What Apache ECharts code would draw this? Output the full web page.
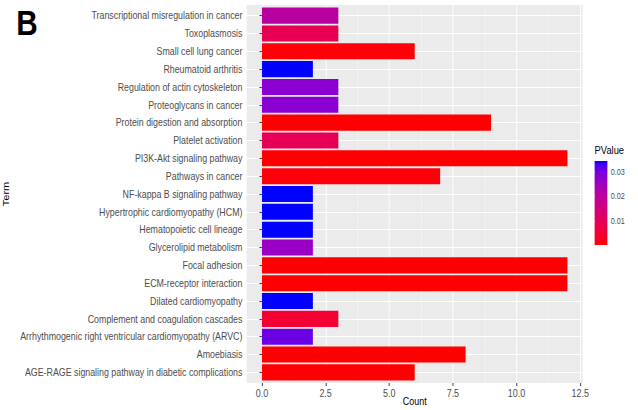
<!DOCTYPE html>
<html>
<head>
<meta charset="utf-8">
<script src="https://cdn.jsdelivr.net/npm/echarts@6/dist/echarts.min.js"></script>
<style>
  html, body { margin: 0; padding: 0; background: #fff; overflow: hidden; width: 638px; height: 410px; }
  /* the figure is laid out 750px wide and drawn horizontally condensed into 638px */
  #chart { width: 750px; height: 410px; transform: scaleX(0.85067); transform-origin: 0 0; }
</style>
</head>
<body>
<div id="chart"></div>
<script>
// KEGG terms, listed from the bottom of the axis to the top
const terms = [
  'AGE-RAGE signaling pathway in diabetic complications',
  'Amoebiasis',
  'Arrhythmogenic right ventricular cardiomyopathy (ARVC)',
  'Complement and coagulation cascades',
  'Dilated cardiomyopathy',
  'ECM-receptor interaction',
  'Focal adhesion',
  'Glycerolipid metabolism',
  'Hematopoietic cell lineage',
  'Hypertrophic cardiomyopathy (HCM)',
  'NF-kappa B signaling pathway',
  'Pathways in cancer',
  'PI3K-Akt signaling pathway',
  'Platelet activation',
  'Protein digestion and absorption',
  'Proteoglycans in cancer',
  'Regulation of actin cytoskeleton',
  'Rheumatoid arthritis',
  'Small cell lung cancer',
  'Toxoplasmosis',
  'Transcriptional misregulation in cancer'
];
const counts = [6, 8, 2, 3, 2, 12, 12, 2, 2, 2, 2, 7, 12, 3, 9, 3, 3, 2, 6, 3, 3];
const pvalues = [0.0002, 0.0001, 0.031, 0.0045, 0.0347, 0.00001, 0.00002, 0.026, 0.0347, 0.0347,
                 0.0347, 0.0006, 0.00003, 0.0095, 0.00005, 0.028, 0.028, 0.0347, 0.0003, 0.009, 0.021];
const countTicks = [0, 2.5, 5, 7.5, 10, 12.5];
const countMinorTicks = [1.25, 3.75, 6.25, 8.75, 11.25];
const pTicks = [0.01, 0.02, 0.03];

// red -> blue gradient interpolated in CIE Lab
function toLin(c) { c /= 255; return c <= 0.04045 ? c / 12.92 : Math.pow((c + 0.055) / 1.055, 2.4); }
function fromLin(c) { c = Math.max(0, Math.min(1, c)); return Math.round(255 * (c <= 0.0031308 ? 12.92 * c : 1.055 * Math.pow(c, 1 / 2.4) - 0.055)); }
function rgb2lab(r, g, b) {
  const R = toLin(r), G = toLin(g), B = toLin(b);
  const X = (0.4124 * R + 0.3576 * G + 0.1805 * B) / 0.95047;
  const Y = (0.2126 * R + 0.7152 * G + 0.0722 * B);
  const Z = (0.0193 * R + 0.1192 * G + 0.9505 * B) / 1.08883;
  const f = t => t > 0.008856 ? Math.cbrt(t) : 7.787 * t + 16 / 116;
  const fx = f(X), fy = f(Y), fz = f(Z);
  return [116 * fy - 16, 500 * (fx - fy), 200 * (fy - fz)];
}
function lab2rgb(L, a, b) {
  const fy = (L + 16) / 116, fx = fy + a / 500, fz = fy - b / 200;
  const fi = t => t ** 3 > 0.008856 ? t ** 3 : (t - 16 / 116) / 7.787;
  const X = fi(fx) * 0.95047, Y = fi(fy), Z = fi(fz) * 1.08883;
  const R = 3.2406 * X - 1.5372 * Y - 0.4986 * Z;
  const G = -0.9689 * X + 1.8758 * Y + 0.0415 * Z;
  const B = 0.0557 * X - 0.2040 * Y + 1.0570 * Z;
  return 'rgb(' + fromLin(R) + ',' + fromLin(G) + ',' + fromLin(B) + ')';
}
const labLow = rgb2lab(255, 0, 0), labHigh = rgb2lab(0, 0, 255);
const nStops = 24;
const gradStops = [];
for (let i = 0; i <= nStops; i++) {
  const t = i / nStops;
  gradStops.push(lab2rgb(
    labLow[0] + (labHigh[0] - labLow[0]) * t,
    labLow[1] + (labHigh[1] - labLow[1]) * t,
    labLow[2] + (labHigh[2] - labLow[2]) * t));
}
const pMin = Math.min(...pvalues), pMax = Math.max(...pvalues);

const barData = terms.map((t, i) => [counts[i], t, pvalues[i]]);
const font = '"Liberation Sans", Arial, sans-serif';

const chart = echarts.init(document.getElementById('chart'), null, { renderer: 'svg' });
chart.setOption({
  animation: false,
  backgroundColor: '#ffffff',
  textStyle: { fontFamily: font },
  title: [
    { text: 'B', left: 19, top: 6, padding: 0,
      textStyle: { fontFamily: font, fontSize: 35, fontWeight: 'bold', color: '#000' } },
    { text: 'PValue', left: 699, top: 145, padding: 0,
      textStyle: { fontFamily: font, fontSize: 11, fontWeight: 'normal', color: '#000' } }
  ],
  visualMap: {
    show: false, type: 'continuous', seriesIndex: 0, dimension: 2,
    min: pMin, max: pMax, inRange: { color: gradStops }
  },
  grid: [
    // panel
    { left: 290, right: 65, top: 5, bottom: 27, show: true, backgroundColor: '#EBEBEB', borderWidth: 0,
      outerBoundsMode: 'none' },
    // bars (panel minus the discrete-scale padding)
    { left: 290, right: 65, top: 6.7, bottom: 28.7, show: false, outerBoundsMode: 'none' },
    // colour bar
    { left: 699, top: 161, width: 15, height: 84, show: true, borderWidth: 0, outerBoundsMode: 'none',
      backgroundColor: { type: 'linear', x: 0, y: 0, x2: 0, y2: 1,
        colorStops: gradStops.slice().reverse().map((c, i) => ({ offset: i / nStops, color: c })) } }
  ],
  xAxis: [
    { gridIndex: 0, type: 'value', min: -0.6, max: 12.6,
      name: 'Count', nameLocation: 'middle', nameGap: 13, nameMoveOverlap: false,
      nameTextStyle: { fontFamily: font, fontSize: 10.5, color: '#000' },
      axisLine: { show: false },
      axisTick: { show: true, customValues: countTicks, length: 3, lineStyle: { color: '#333', width: 1 } },
      axisLabel: { customValues: countTicks, formatter: v => v.toFixed(1), fontFamily: font, fontSize: 10.5, color: '#4D4D4D', margin: 5 },
      splitLine: { show: true, lineStyle: { color: '#ffffff', width: 1.1 } } },
    { gridIndex: 0, type: 'value', min: -0.6, max: 12.6, position: 'bottom',
      axisLine: { show: false }, axisLabel: { show: false },
      axisTick: { show: false, customValues: countMinorTicks },
      splitLine: { show: true, lineStyle: { color: '#F7F7F7', width: 0.6 } } },
    { gridIndex: 1, type: 'value', min: -0.6, max: 12.6, show: false },
    { gridIndex: 2, type: 'value', min: 0, max: 1, show: false }
  ],
  yAxis: [
    { gridIndex: 0, type: 'value', show: false },
    { gridIndex: 1, type: 'category', data: terms,
      name: 'Term', nameLocation: 'middle', nameRotate: 90, nameGap: 268,
      nameTextStyle: { fontFamily: font, fontSize: 11, color: '#000' },
      axisLine: { show: false },
      axisTick: { show: true, alignWithLabel: true, length: 3, lineStyle: { color: '#333' } },
      axisLabel: { fontFamily: font, fontSize: 10.4, color: '#4D4D4D', margin: 5 },
      splitLine: { show: true, alignWithLabel: true, lineStyle: { color: '#ffffff', width: 1.1 } } },
    { gridIndex: 2, type: 'value', min: pMin, max: pMax, position: 'right',
      axisLine: { show: false },
      axisTick: { show: true, inside: true, customValues: pTicks, length: 3, lineStyle: { color: '#ffffff', width: 1 } },
      axisLabel: { customValues: pTicks, formatter: v => v.toFixed(2), fontFamily: font, fontSize: 8.5, color: '#4D4D4D', margin: 4 },
      splitLine: { show: false } }
  ],
  series: [{
    type: 'bar', xAxisIndex: 2, yAxisIndex: 1,
    encode: { x: 0, y: 1 },
    data: barData,
    barWidth: '90%'
  }]
});
</script>
</body>
</html>
